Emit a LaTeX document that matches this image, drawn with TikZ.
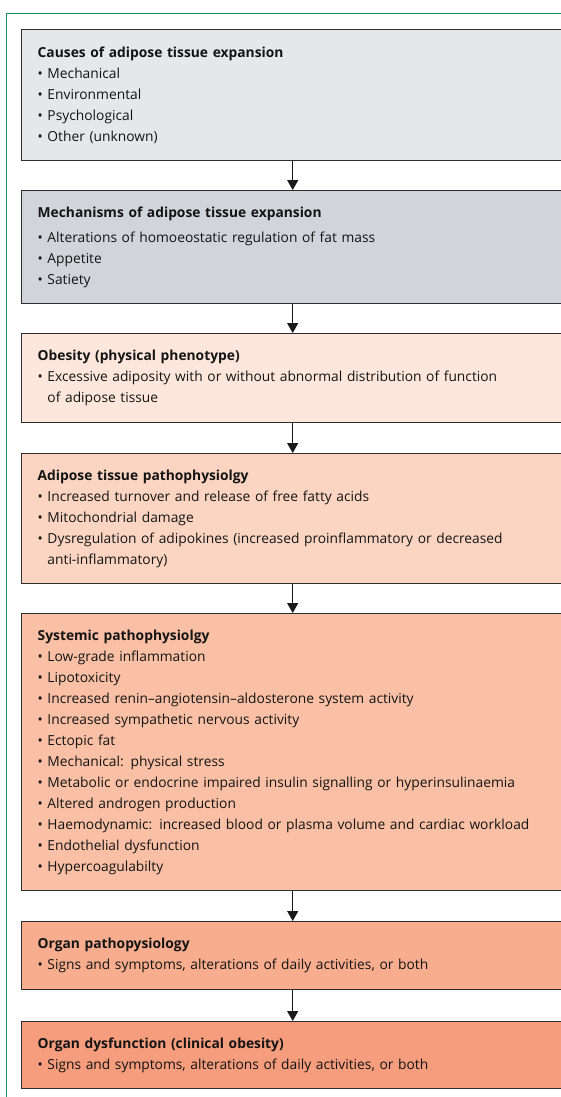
\documentclass[tikz,border=0pt]{standalone}
\usepackage{fontspec}
\setmainfont{Open Sans}
\usetikzlibrary{arrows.meta,positioning}
\definecolor{framegreen}{HTML}{1F8A5A}
\definecolor{boxline}{HTML}{2E2E2E}
\definecolor{causefill}{HTML}{E6E7E9}
\definecolor{mechfill}{HTML}{D1D4DA}
\definecolor{obesfill}{HTML}{FDE7DC}
\definecolor{adipfill}{HTML}{FBD5C2}
\definecolor{sysfill}{HTML}{FAC0A5}
\definecolor{organfill}{HTML}{F8AD8E}
\definecolor{dysfill}{HTML}{F59D7C}
\newcommand{\hd}[1]{\textbf{#1}}
\newcommand{\bl}{\hphantom{• }}
\tikzset{
  box/.style={draw=boxline,line width=1.4pt,anchor=north west,minimum width=542pt,
    text width=510pt,inner xsep=16pt,inner ysep=0pt,align=left,
    font=\fontsize{13.8}{21}\selectfont,text=black!92},
  flow/.style={-{Triangle[width=11pt,length=10pt]},line width=1.2pt,draw=black!90},
}
\begin{document}
\begin{tikzpicture}[x=1pt,y=-1pt]
    \useasboundingbox (0,0) rectangle (561,1097);
    \clip (0,0) rectangle (561,1097);
    \draw[framegreen,line width=1pt] (6,1200) -- (6,14) -- (700,14);
    % boxes
    \node[box,fill=causefill,minimum height=131pt] (cause) at (21,29) {\hd{Causes of adipose tissue expansion}\\
      • Mechanical\\ • Environmental\\ • Psychological\\ • Other (unknown)};
    \node[box,fill=mechfill,minimum height=113pt] (mech) at (21,190) {\hd{Mechanisms of adipose tissue expansion}\\[4pt]
      • Alterations of homoeostatic regulation of fat mass\\ • Appetite\\ • Satiety};
    \node[box,fill=obesfill,minimum height=89pt] (obes) at (21,333) {\hd{Obesity (physical phenotype)}\\
      • Excessive adiposity with or without abnormal distribution of function\\ \bl of adipose tissue};
    \node[box,fill=adipfill,minimum height=130pt] (adip) at (21,453) {\hd{Adipose tissue pathophysiolgy}\\
      • Increased turnover and release of free fatty acids\\ • Mitochondrial damage\\
      • Dysregulation of adipokines (increased proinflammatory or decreased\\ \bl anti-inflammatory)};
    \node[box,fill=sysfill,minimum height=277pt] (sys) at (21,613) {\hd{Systemic pathophysiolgy}\\
      • Low-grade inflammation\\ • Lipotoxicity\\
      • Increased renin–angiotensin–aldosterone system activity\\
      • Increased sympathetic nervous activity\\ • Ectopic fat\\
      • Mechanical: physical stress\\
      • Metabolic or endocrine impaired insulin signalling or hyperinsulinaemia\\
      • Altered androgen production\\
      • Haemodynamic: increased blood or plasma volume and cardiac workload\\
      • Endothelial dysfunction\\ • Hypercoagulabilty};
    \node[box,fill=organfill,minimum height=68pt] (organ) at (21,921) {\hd{Organ pathopysiology}\\
      • Signs and symptoms, alterations of daily activities, or both};
    \node[box,fill=dysfill,minimum height=67pt] (dys) at (21,1021) {\hd{Organ dysfunction (clinical obesity)}\\
      • Signs and symptoms, alterations of daily activities, or both};
    % arrows
    \draw[flow] (cause) -- (mech);
    \draw[flow] (mech) -- (obes);
    \draw[flow] (obes) -- (adip);
    \draw[flow] (adip) -- (sys);
    \draw[flow] (sys) -- (organ);
    \draw[flow] (organ) -- (dys);
\end{tikzpicture}
\end{document}
